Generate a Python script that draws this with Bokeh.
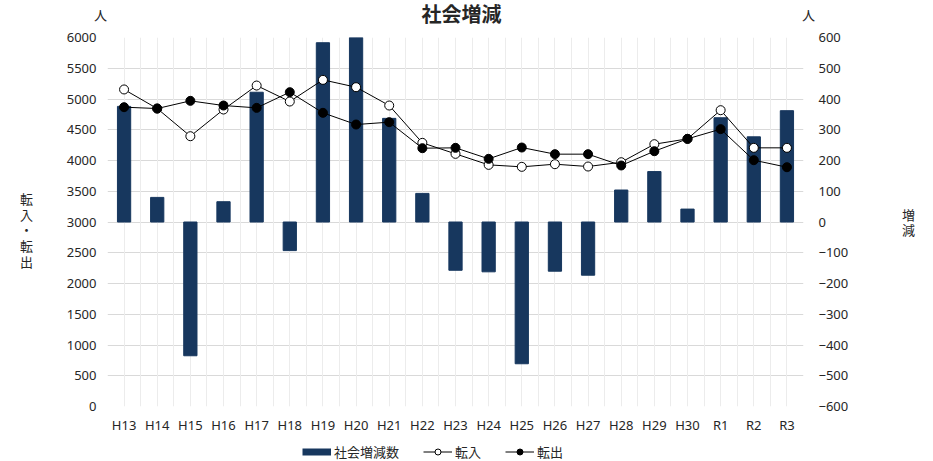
from bokeh.plotting import figure
from bokeh.layouts import column
from bokeh.models import (Range1d, LinearAxis, SingleIntervalTicker, FixedTicker, Grid,
                          Legend, LegendItem, Label, ColumnDataSource)
from bokeh.embed import file_html
from bokeh.resources import INLINE

# ---- data ----
categories = ["H13", "H14", "H15", "H16", "H17", "H18", "H19", "H20", "H21", "H22",
              "H23", "H24", "H25", "H26", "H27", "H28", "H29", "H30", "R1", "R2", "R3"]
net_change = [376, 80, -435, 66, 422, -93, 583, 640, 337, 93,
              -157, -162, -461, -160, -173, 104, 164, 42, 339, 277, 362]
moved_in = [5155, 4845, 4395, 4829, 5219, 4959, 5311, 5192, 4894, 4287,
            4108, 3929, 3897, 3940, 3902, 3972, 4265, 4352, 4818, 4206, 4206]
moved_out = [4867, 4845, 4970, 4894, 4856, 5111, 4775, 4585, 4623, 4200,
             4206, 4027, 4211, 4103, 4103, 3919, 4151, 4352, 4510, 4005, 3891]

NAVY = "#17375E"
TXT = "#262626"
JP = "Noto Sans CJK JP"
NUM = "Noto Sans"
FW = 696

src = ColumnDataSource(dict(cat=categories, net=net_change, inn=moved_in, out=moved_out))

p = figure(x_range=categories, y_range=Range1d(0, 6000),
           frame_width=FW, frame_height=369,
           output_backend="svg", toolbar_location=None,
           min_border_left=107, min_border_right=126, min_border_top=37, min_border_bottom=32)
p.outline_line_color = None
p.background_fill_color = "white"
p.extra_y_ranges = {"r": Range1d(-600, 600)}

# axes
p.yaxis.ticker = SingleIntervalTicker(interval=500, num_minor_ticks=0)
raxis = LinearAxis(y_range_name="r", ticker=SingleIntervalTicker(interval=100, num_minor_ticks=0))
p.add_layout(raxis, "right")
for ax in (p.yaxis[0], raxis, p.xaxis[0]):
    ax.axis_line_color = None
    ax.major_tick_line_color = None
    ax.minor_tick_line_color = None
    ax.major_tick_out = 0
    ax.major_tick_in = 0
    ax.major_label_text_font = NUM
    ax.major_label_text_font_size = "13px"
    ax.major_label_text_color = TXT
p.yaxis[0].major_label_standoff = 11
raxis.major_label_standoff = 15
p.xaxis[0].major_label_standoff = 9

# grids
p.ygrid.grid_line_color = "#d9d9d9"
p.xgrid.visible = False
vticks = [i / 2 for i in range(2 * len(categories) + 1)]
p.add_layout(Grid(dimension=0, ticker=FixedTicker(ticks=vticks), grid_line_color="#ececec"))

# glyphs
p.vbar(x="cat", top="net", bottom=0, width=0.4, source=src, y_range_name="r",
       fill_color=NAVY, line_color=NAVY)
p.line(x="cat", y="inn", source=src, line_color="black", line_width=1)
p.scatter(x="cat", y="inn", source=src, size=9, fill_color="white", line_color="black")
p.line(x="cat", y="out", source=src, line_color="black", line_width=1)
p.scatter(x="cat", y="out", source=src, size=9, fill_color="black", line_color="black")

# texts (data-anchored, placed in side panels so they are not clipped to the frame)
def lab(fig, text, x, y, xo, yo, side, size="13px", font=JP, bold=False, base="middle", **kw):
    lb = Label(x=x, y=y, x_offset=xo, y_offset=yo, text=text, text_font=font,
               text_font_size=size, text_color=TXT, text_align="center",
               text_baseline=base, text_font_style="bold" if bold else "normal", **kw)
    if side is None:
        fig.add_layout(lb)
    else:
        fig.add_layout(lb, side)

n = len(categories)
lab(p, "社会増減", n / 2, 6000, 6, 24, "above", size="20px", bold=True)
lab(p, "人", 0, 6000, -7, 23, "left")
lab(p, "転\n入\n・\n転\n出", 0, 3000, -81, -8, "left", text_line_height=0.82)
lab(p, "人", n, 6000, 5, 23, "right")
lab(p, "増\n減", n, 3000, 105, 0, "right", text_line_height=0.82)

# ---- legend strip (separate small figure below the chart; its frame is aligned with the chart frame) ----
p2 = figure(frame_width=FW, frame_height=23, x_range=Range1d(0, FW), y_range=Range1d(0, 23),
            x_axis_location=None, y_axis_location=None, toolbar_location=None,
            output_backend="svg", min_border=0, min_border_left=107, min_border_right=126)
p2.grid.visible = False
p2.outline_line_color = None
off = dict(x=[-50, -40], y=[-50, -50])  # samples kept outside the visible strip
sw = p2.line(line_color=NAVY, line_width=7, **off)
li = p2.line(line_color="black", line_width=1, **off)
si = p2.scatter(size=9, fill_color="white", line_color="black", **off)
lo = p2.line(line_color="black", line_width=1, **off)
so = p2.scatter(size=9, fill_color="black", line_color="black", **off)

legend = Legend(items=[LegendItem(label="社会増減数", renderers=[sw]),
                       LegendItem(label="転入", renderers=[li, si]),
                       LegendItem(label="転出", renderers=[lo, so])],
                orientation="horizontal", location=(195, 0))
legend.border_line_color = None
legend.background_fill_alpha = 0
legend.label_text_font = JP
legend.label_text_font_size = "13px"
legend.label_text_color = TXT
legend.glyph_width = 29
legend.glyph_height = 15
legend.label_height = 14
legend.label_standoff = 3
legend.spacing = 24
legend.padding = 0
legend.margin = 0
p2.add_layout(legend)
lab(p2, "年", 715, 12, 0, 0, None)

layout = column(p, p2)
open("out.html", "w").write(file_html(layout, INLINE))
